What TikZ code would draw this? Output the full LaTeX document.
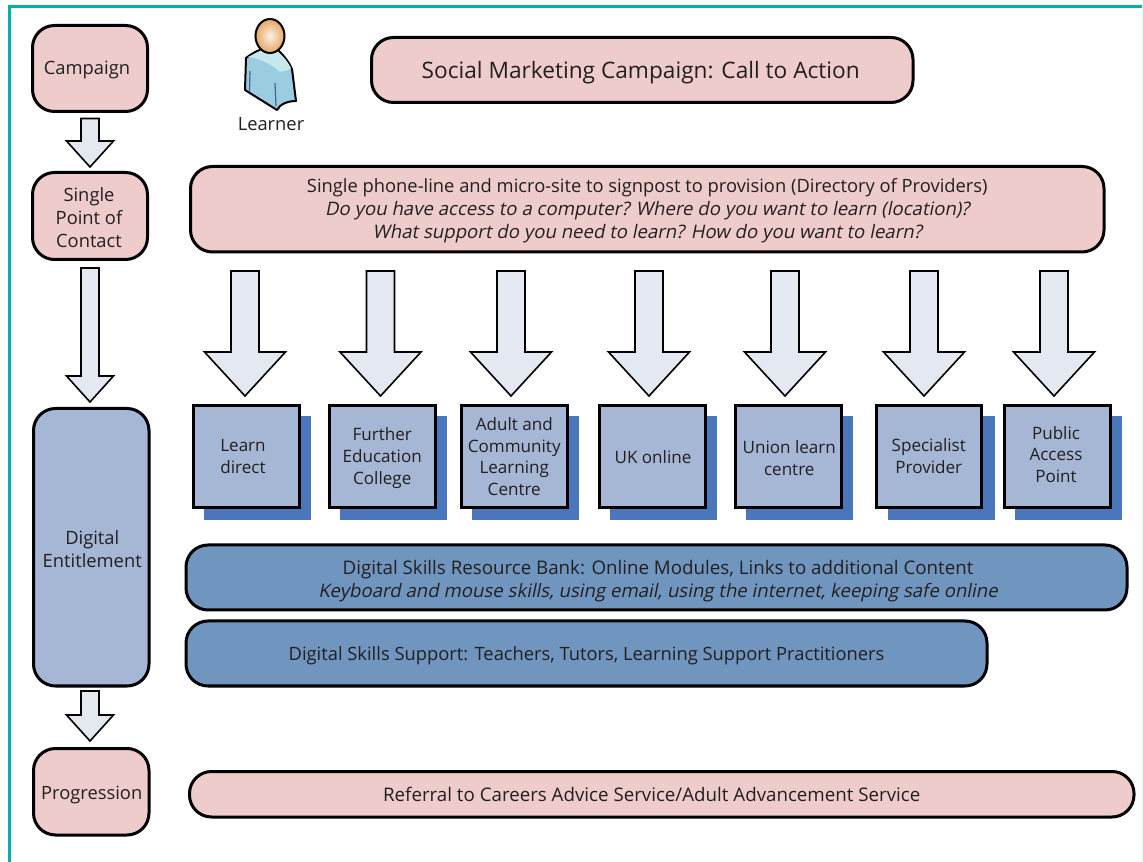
\documentclass[tikz,border=0pt]{standalone}
\usetikzlibrary{calc}
\usepackage{fontspec}
\setmainfont{Open Sans}
\newfontfamily\slantfont[FakeSlant=0.2]{Open Sans}
\definecolor{pinkfill}{HTML}{EDCCCB}
\definecolor{bluefill}{HTML}{A5B7D5}
\definecolor{midblue}{HTML}{7096C0}
\definecolor{shadowblue}{HTML}{4A77BC}
\definecolor{arrowfill}{HTML}{E4E8F1}
\definecolor{framecol}{HTML}{00B2A9}
\definecolor{framefaint}{HTML}{E0F5F3}
\definecolor{ink}{HTML}{231F20}
\definecolor{bodyblue}{HTML}{9BCCE0}
\definecolor{bodylight}{HTML}{C6E8EC}
\definecolor{folds}{HTML}{3C64A0}
\definecolor{skin}{HTML}{E6A564}
\definecolor{skinlight}{HTML}{FBF1E6}
\newcommand{\bigtxt}{\fontsize{17}{20}\selectfont}
\newcommand{\txt}{\fontsize{13.75}{17.25}\selectfont}
\newcommand{\smalltxt}{\fontsize{12.8}{16.2}\selectfont}
\newcommand{\sltxt}{\slantfont\fontsize{13.95}{17.25}\selectfont}
\newcommand{\widetxt}{\fontsize{14.05}{17.25}\selectfont}
\tikzset{
  px/.style={x=0.75pt,y=-0.75pt},
  rbox/.style={draw=black,line width=2.25pt,rounded corners=16.5pt,inner sep=0pt},
  pinkbox/.style={rbox,fill=pinkfill},
  bluebox/.style={rbox,fill=bluefill},
  midbox/.style={rbox,fill=midblue},
  squarebox/.style={draw=black,line width=2.25pt,fill=bluefill,inner sep=0pt},
  boxtext/.style={text=ink,align=center,font=\txt,inner sep=0pt},
  smalltext/.style={text=ink,align=center,font=\smalltxt,inner sep=0pt},
  shadowrect/.style={fill=shadowblue},
  blockarrow/.style={draw=black,line width=1.2pt,fill=arrowfill,line join=miter},
}
% \blockarrow{cx}{top}{head base}{tip}{shaft half}{head half}
\newcommand{\blockarrow}[6]{%
  \draw[blockarrow] (#1-#5,#2) -- (#1+#5,#2) -- (#1+#5,#3) -- (#1+#6,#3) -- (#1,#4) -- (#1-#6,#3) -- (#1-#5,#3) -- cycle;}
% \place{name}{left}{top}{right}{bottom}{style}
\newcommand{\place}[6]{%
  \node[#6,minimum width={(#4-#2)*0.75pt},minimum height={(#5-#3)*0.75pt}] (#1) at ({(#2+#4)/2},{(#3+#5)/2}) {};}
% \lab{box}{text style}{dx}{dy}{text}
\newcommand{\lab}[5]{%
  \node[#2] (#1-label) at ($(#1.center)+(#3,#4)$) {#5};}
\begin{document}
\begin{tikzpicture}[px]
\useasboundingbox (0,0) rectangle (1143,862);
\begin{scope}
\clip (0,0) rectangle (1143,862);
\draw[framecol,line width=2.25pt] (9.5,6.5) -- (1141.5,6.5);
\draw[framecol,line width=2.25pt] (9.5,5.4) -- (9.5,870);
\draw[framefaint,line width=0.75pt] (1142.5,6.5) -- (1142.5,870);
\end{scope}
% left column
\place{campaign}{32.5}{25.5}{147.5}{111.5}{pinkbox}
\lab{campaign}{boxtext}{-3}{1}{Campaign}
\place{spoc}{32.5}{172.5}{147.5}{259.5}{pinkbox}
\lab{spoc}{boxtext}{-1}{2}{Single\\Point of\\Contact}
\place{entitle}{33.5}{408.5}{149}{686}{bluebox}
\lab{entitle}{boxtext}{1}{1.5}{Digital\\Entitlement}
\place{progress}{33.5}{748.5}{149}{835}{pinkbox}
\lab{progress}{boxtext}{0.5}{3}{Progression}
\blockarrow{90}{118.5}{141}{167}{9}{23.5}
\blockarrow{90}{268}{376}{402}{9}{23.5}
\blockarrow{90}{691}{715}{741}{9}{23.5}
% learner
\draw[black,line width=1.5pt,fill=bodyblue,line join=round]
  (270,48) .. controls (262,48) and (254,52) .. (246,58)
  -- (245,90) -- (277,110)
  .. controls (280,104) and (288,101) .. (296,101)
  -- (292,69) .. controls (289,62) and (284,56) .. (278,50) -- cycle;
\fill[bodylight] (248,57) .. controls (258,58) and (272,64) .. (280,72)
  .. controls (284,71) and (288,71) .. (291,68) .. controls (288,62) and (284,57) .. (278,52) -- (262,50) -- cycle;
\draw[folds,line width=0.9pt] (250,71) -- (249.5,92);
\draw[folds,line width=0.9pt] (275,83) -- (276,106);
\shade[draw=black,line width=1.5pt,inner color=skinlight,outer color=skin]
  (270,36) ellipse [x radius=14.5,y radius=17];
\node[boxtext] (learner) at (271,124) {Learner};
% top bars
\place{social}{371.5}{37.5}{913}{102.5}{pinkbox}
\lab{social}{boxtext}{-1.5}{2.5}{\bigtxt Social Marketing Campaign: Call to Action}
\place{phone}{190.5}{166.5}{1104}{252}{pinkbox}
\lab{phone}{boxtext}{0}{1}{Single phone-line and micro-site to signpost to provision (Directory of Providers)\\
\sltxt Do you have access to a computer? Where do you want to learn (location)?\\
\sltxt What support do you need to learn? How do you want to learn?}
% arrows to providers
\foreach \c in {245,380.5,511,649,785,924,1054}{\blockarrow{\c}{271}{352}{396}{14}{40.5}}
% provider boxes
\fill[shadowrect] (204,416) rectangle (311,520);
\fill[shadowrect] (340,416) rectangle (447,520);
\fill[shadowrect] (472,416) rectangle (579,520);
\fill[shadowrect] (610,416) rectangle (717,520);
\fill[shadowrect] (746,416) rectangle (853,520);
\fill[shadowrect] (888,416) rectangle (995,520);
\fill[shadowrect] (1015,416) rectangle (1122,520);
\place{learn}{193}{405.5}{299}{507.5}{squarebox}
\lab{learn}{smalltext}{-3}{0}{Learn\\direct}
\place{further}{329.5}{405.5}{435}{507.5}{squarebox}
\lab{further}{smalltext}{0}{1.5}{Further\\Education\\College}
\place{adult}{461.5}{405.5}{567}{507.5}{squarebox}
\lab{adult}{smalltext}{0}{0}{Adult and\\Community\\Learning\\Centre}
\place{ukonline}{599}{405.5}{705}{507.5}{squarebox}
\lab{ukonline}{smalltext}{1}{1}{UK online}
\place{union}{735.5}{405.5}{841}{507.5}{squarebox}
\lab{union}{smalltext}{1}{1.5}{Union learn\\centre}
\place{special}{876}{405.5}{981.5}{507.5}{squarebox}
\lab{special}{smalltext}{0}{-0.5}{Specialist\\Provider}
\place{public}{1004}{405.5}{1110}{507.5}{squarebox}
\lab{public}{smalltext}{-1}{-2}{Public\\Access\\Point}
% lower bars
\place{bank}{186}{545}{1127}{610}{midbox}
\lab{bank}{boxtext}{1.5}{4}{\widetxt Digital Skills Resource Bank: Online Modules, Links to additional Content\\
\sltxt Keyboard and mouse skills, using email, using the internet, keeping safe online}
\place{support}{186}{621}{987}{686}{midbox}
\lab{support}{boxtext}{0}{2}{Digital Skills Support: Teachers, Tutors, Learning Support Practitioners}
\place{referral}{189.5}{771.5}{1134}{817}{pinkbox}
\lab{referral}{boxtext}{-10}{0}{\widetxt Referral to Careers Advice Service/Adult Advancement Service}
\end{tikzpicture}
\end{document}
